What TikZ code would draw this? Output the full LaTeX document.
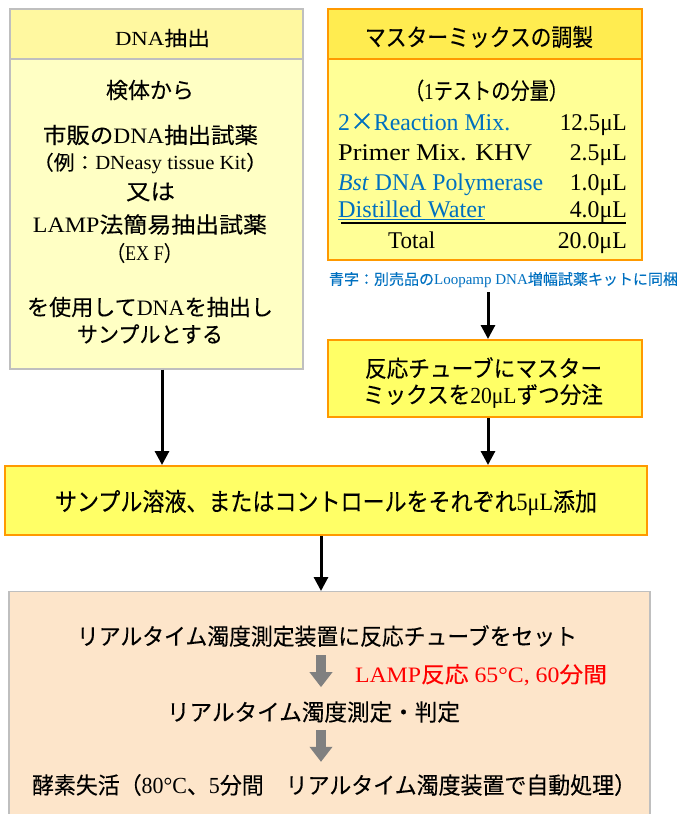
\documentclass[tikz,border=0pt]{standalone}
\usepackage{fontspec}
\usepackage{graphicx}
\setmainfont{Liberation Serif}
\newfontfamily\jp[FakeBold=0.2]{Noto Sans CJK JP}
\usetikzlibrary{arrows.meta,calc}
\newcommand\J[1]{{\jp #1}}
\newcommand\W[2]{\resizebox{#1pt}{\height}{#2}}
\definecolor{lborder}{RGB}{191,191,191}
\definecolor{lhead}{RGB}{255,248,160}
\definecolor{lbody}{RGB}{255,255,196}
\definecolor{orng}{RGB}{255,153,0}
\definecolor{mhead}{RGB}{255,236,80}
\definecolor{mbody}{RGB}{255,255,150}
\definecolor{ybox}{RGB}{255,255,102}
\definecolor{peach}{RGB}{253,229,202}
\definecolor{nblue}{RGB}{0,112,192}
\definecolor{agray}{RGB}{128,128,128}
\tikzset{
  fs/.style={font=\fontsize{#1pt}{#1pt}\selectfont},
  t/.style={inner sep=0pt},
  graybox/.style={draw=lborder, line width=1.2pt, inner sep=0pt},
  orbox/.style={draw=orng, line width=2pt, inner sep=0pt},
  arr/.style={-{Triangle[width=14pt,length=14pt]}, line width=3pt},
  garr/.style={-{Triangle[width=22pt,length=15pt]}, line width=10pt, draw=agray},
}
\begin{document}
\begin{tikzpicture}[x=1pt,y=-1pt]
\useasboundingbox (0,0) rectangle (681,814);
% ---------- left box ----------
\node[graybox, fill=lbody, minimum width=293pt, minimum height=360pt] (dna) at (156.5,189) {};
\node[graybox, fill=lhead, minimum width=293pt, minimum height=50pt, anchor=north] (dnah) at (dna.north) {};
\node[t, fs=20] (dnat) at (162.5,38) {\W{95}{DNA\J{抽出}}};
\node[t, fs=22] (d1) at (150,90) {\W{88}{\J{検体から}}};
\node[t, fs=22] (d2) at (150.5,135) {\W{215}{\J{市販の}DNA\J{抽出試薬}}};
\node[t, fs=20] (d3) at (150,163.5) {\W{234}{\J{（例：}DNeasy tissue Kit\J{）}}};
\node[t, fs=22] (d4) at (150.5,192) {\W{49}{\J{又は}}};
\node[t, fs=22] (d5) at (150,224.5) {\W{234}{LAMP\J{法簡易抽出試薬}}};
\node[t, fs=21] (d6) at (144.5,253) {\W{75}{\J{（}EX F\J{）}}};
\node[t, fs=22] (d7) at (150,307) {\W{246}{\J{を使用して}DNA\J{を抽出し}}};
\node[t, fs=22] (d8) at (150,334) {\W{146}{\J{サンプルとする}}};
% ---------- master mix box ----------
\node[orbox, fill=mbody, minimum width=314pt, minimum height=251pt] (mm) at (485,134.5) {};
\node[orbox, fill=mhead, minimum width=314pt, minimum height=50pt, anchor=north] (mmh) at (mm.north) {};
\node[t, fs=24] (mmt) at (479,37) {\W{228}{\J{マスターミックスの調製}}};
\node[t, fs=23] (m0) at (486.5,90.5) {\W{163}{\J{（}1\J{テストの分量）}}};
\node[t, fs=24, anchor=base west, text=nblue] (m1) at (338,130) {\W{172}{2\J{×}Reaction Mix.}};
\node[t, fs=24, anchor=base east] (v1) at (627,130) {\W{67}{12.5μL}};
\node[t, fs=24, anchor=base west] (m2) at (338,160) {\W{194}{Primer Mix. KHV}};
\node[t, fs=24, anchor=base east] (v2) at (627,160) {\W{57}{2.5μL}};
\node[t, fs=24, anchor=base west, text=nblue] (m3) at (338,190) {\W{205}{\textit{Bst} DNA Polymerase}};
\node[t, fs=24, anchor=base east] (v3) at (627,190) {\W{57}{1.0μL}};
\node[t, fs=24, anchor=base west, text=nblue] (m4) at (338,217) {\W{147}{\underline{Distilled Water}}};
\node[t, fs=24, anchor=base east] (v4) at (627,217) {\W{57}{4.0μL}};
\draw[line width=2.5pt] (341,223) -- (626,223);
\node[t, fs=24, anchor=base west] (m5) at (388,248) {\W{47}{Total}};
\node[t, fs=24, anchor=base east] (v5) at (627,248) {\W{69}{20.0μL}};
\node[t, fs=15, text=nblue] (note) at (503.5,280) {\W{349}{\J{青字：別売品の}Loopamp DNA\J{増幅試薬キットに同梱}}};
% ---------- tube box ----------
\node[orbox, fill=ybox, minimum width=314pt, minimum height=77pt] (tube) at (485,378.5) {};
\node[t, fs=23] (tb1) at (483.5,368) {\W{237}{\J{反応チューブにマスター}}};
\node[t, fs=23] (tb2) at (483,396) {\W{240}{\J{ミックスを}20μL\J{ずつ分注}}};
% ---------- add box ----------
\node[orbox, fill=ybox, minimum width=642pt, minimum height=69pt] (add) at (326,500.5) {};
\node[t, fs=25] (addt) at (326,503) {\W{542}{\J{サンプル溶液、またはコントロールをそれぞれ}5μL\J{添加}}};
% ---------- real-time box ----------
\node[graybox, fill=peach, minimum width=641pt, minimum height=230pt, anchor=north] (rt) at (329.5,591) {};
\node[t, fs=23] (l1) at (327,636) {\W{500}{\J{リアルタイム濁度測定装置に反応チューブをセット}}};
\node[t, fs=22, text=red] (lr) at (481,675) {\W{252}{LAMP\J{反応} 65°C, 60\J{分間}}};
\node[t, fs=23] (l2) at (313.5,712) {\W{293}{\J{リアルタイム濁度測定・判定}}};
\node[t, fs=23] (l3) at (334,785) {\W{604}{\J{酵素失活（}80°C\J{、}5\J{分間　リアルタイム濁度装置で自動処理）}}};
\coordinate (gx) at (321,0);
% ---------- connectors ----------
\draw[arr] ($(dna.south)+(5.5,0)$) -- ($(dna.south |- add.north)+(5.5,0)$);
\draw[arr] ($(note.south -| tube.north)+(3,4)$) -- ($(tube.north)+(3,0)$);
\draw[arr] ($(tube.south)+(3,0)$) -- ($(tube.south |- add.north)+(3,0)$);
\draw[arr] ($(add.south)+(-5,0)$) -- ($(add.south |- rt.north)+(-5,0)$);
\draw[garr, shorten <=8pt, shorten >=14pt] (l1.south -| gx) -- (l2.north -| gx);
\draw[garr, shorten <=7pt, shorten >=12pt] (l2.south -| gx) -- (l3.north -| gx);
\end{tikzpicture}
\end{document}
